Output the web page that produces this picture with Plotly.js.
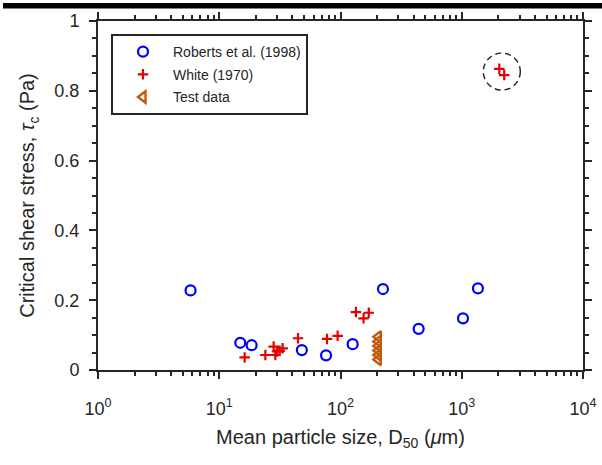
<!DOCTYPE html>
<html>
<head>
<meta charset="utf-8">
<script src="https://cdn.plot.ly/plotly-3.0.1.min.js"></script>
<style>html,body{margin:0;padding:0;background:#fff;}#chart{width:602px;height:465px;}</style>
</head>
<body>
<div id="chart"></div>
<script>
// Roberts et al. (1998)
const robertsX = [5.8, 14.9, 18.5, 48, 76, 126, 224, 441, 1024, 1360];
const robertsY = [0.228, 0.078, 0.071, 0.057, 0.042, 0.074, 0.232, 0.118, 0.148, 0.234];
// White (1970)
const whiteX = [16.2, 24.0, 28.1, 29.9, 29.0, 33.3, 31.5, 44.6, 77.4, 94.7, 134, 155, 171, 2040, 2240];
const whiteY = [0.036, 0.043, 0.067, 0.053, 0.043, 0.062, 0.055, 0.091, 0.089, 0.098, 0.166, 0.148, 0.164, 0.863, 0.845];
// Test data
const testX = [205, 205, 205, 205, 205, 205];
const testY = [0.03, 0.043, 0.056, 0.069, 0.082, 0.095];
// tick labels
const xTickVals = [1, 10, 100, 1000, 10000];
const xTickText = ['10<sup>0</sup>', '10<sup>1</sup>', '10<sup>2</sup>', '10<sup>3</sup>', '10<sup>4</sup>'];
const yTickVals = [0, 0.2, 0.4, 0.6, 0.8, 1];
const yTickText = ['0', '0.2', '0.4', '0.6', '0.8', '1'];
// highlighted group centre
const circleX = 2140;
const circleY = 0.855;

const ink = '#262626';
const FONT = 'Liberation Sans, Arial, Helvetica, sans-serif';
const M = {l: 98, r: 19, t: 21, b: 95};
const W = 602, H = 465;
const pw = W - M.l - M.r, ph = H - M.t - M.b;
const px2paper = p => (p - M.l) / pw;
const py2paper = p => (H - M.b - p) / ph;

const minorX = [];
for (let d = 0; d < 4; d++) for (let k = 2; k <= 9; k++) minorX.push(k * Math.pow(10, d));

const traces = [
  {x: robertsX, y: robertsY, type: 'scatter', mode: 'markers', name: 'Roberts et al. (1998)', legendgroup: 'a',
   marker: {symbol: 'circle-open', size: 10, color: '#0000FF', line: {width: 2.2, color: '#0000FF'}}},
  {x: whiteX, y: whiteY, type: 'scatter', mode: 'markers', name: 'White (1970)', legendgroup: 'b',
   marker: {symbol: 'cross-thin-open', size: 7.5, color: '#E60000', line: {width: 2.2, color: '#E60000'}}},
  {x: testX, y: testY, type: 'scatter', mode: 'markers', name: 'Test data', legendgroup: 'c',
   marker: {symbol: 'triangle-left-open', size: 10, color: '#BF5A10', line: {width: 2.4, color: '#BF5A10'}}}
];

const axisCommon = {
  showline: true, linecolor: ink, linewidth: 2, mirror: 'allticks',
  ticks: 'outside', ticklen: 7, tickwidth: 2, tickcolor: ink,
  showgrid: false, zeroline: false,
  tickfont: {family: FONT, size: 18, color: ink}
};

const layout = {
  width: W, height: H,
  margin: M,
  paper_bgcolor: '#fff', plot_bgcolor: '#fff',
  showlegend: true,
  legend: {
    x: px2paper(111), y: py2paper(34), xanchor: 'left', yanchor: 'top',
    bordercolor: ink, borderwidth: 2, bgcolor: '#fff',
    itemwidth: 50, tracegroupgap: 1.5,
    font: {family: FONT, size: 14, color: ink}
  },
  xaxis: Object.assign({}, axisCommon, {
    type: 'log', range: [0, 4],
    tickmode: 'array', tickvals: xTickVals, ticktext: xTickText,
    ticklabelstandoff: 14,
    minor: {tickmode: 'array', tickvals: minorX, ticks: 'outside', ticklen: 4, tickwidth: 2, tickcolor: ink},
    title: {text: 'Mean particle size, D<sub>50</sub> (<i>μ</i>m)', standoff: 12,
            font: {family: FONT, size: 20, color: ink}}
  }),
  yaxis: Object.assign({}, axisCommon, {
    range: [0, 1],
    tickmode: 'array', tickvals: yTickVals, ticktext: yTickText,
    ticklabelstandoff: 6,
    minor: {dtick: 0.05, ticks: 'outside', ticklen: 4, tickwidth: 2, tickcolor: ink},
    title: {text: 'Critical shear stress, <i>τ</i><sub>c</sub> (Pa)', standoff: 14,
            font: {family: FONT, size: 20, color: ink}}
  }),
  shapes: [
    {type: 'rect', xref: 'paper', yref: 'paper', x0: px2paper(3), x1: px2paper(602),
     y0: py2paper(8.5), y1: py2paper(3), fillcolor: '#000', line: {width: 0}, layer: 'above'},
    {type: 'circle', xref: 'paper', yref: 'paper',
     xsizemode: 'pixel', ysizemode: 'pixel',
     xanchor: Math.log10(circleX) / 4, yanchor: circleY,
     x0: -18.5, x1: 18.5, y0: -18.5, y1: 18.5,
     line: {color: '#222', width: 1.4, dash: '6px,4px'}}
  ]
};

Plotly.newPlot('chart', traces, layout, {staticPlot: true, displayModeBar: false});
</script>
</body>
</html>
